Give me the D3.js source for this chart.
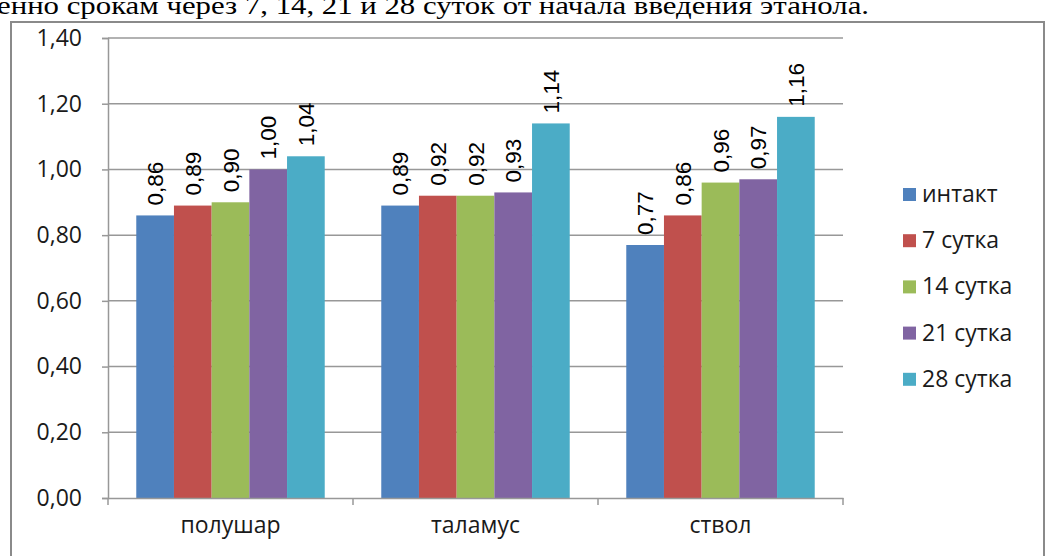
<!DOCTYPE html>
<html>
<head>
<meta charset="utf-8">
<script src="https://cdn.jsdelivr.net/npm/d3@7"></script>
<style>
  body { margin: 0; background: #fff; overflow: hidden; }
  svg { display: block; }
</style>
</head>
<body>
<div id="chart"></div>
<script>
var categories = ["полушар", "таламус", "ствол"];
var seriesNames = ["интакт", "7 сутка", "14 сутка", "21 сутка", "28 сутка"];
var seriesColors = ["#4F81BD", "#C0504D", "#9BBB59", "#8064A2", "#4BACC6"];
// values per category, in series order
var values = [
  [0.86, 0.89, 0.90, 1.00, 1.04],
  [0.89, 0.92, 0.92, 0.93, 1.14],
  [0.77, 0.86, 0.96, 0.97, 1.16]
];
var yTicks = [0, 0.2, 0.4, 0.6, 0.8, 1.0, 1.2, 1.4];

var width = 1048, height = 556;
var plot = {left: 108, right: 843, top: 38, bottom: 498};
var labelFont = "'Open Sans', 'Liberation Sans', sans-serif";

var svg = d3.select("#chart").append("svg")
    .attr("width", width)
    .attr("height", height);

// caption line of the surrounding document, cut off at the top
svg.append("text")
    .attr("x", -3)
    .attr("y", 14)
    .attr("textLength", 872)
    .attr("lengthAdjust", "spacingAndGlyphs")
    .style("font-family", "'Liberation Serif', 'DejaVu Serif', serif")
    .style("font-size", "26px")
    .style("fill", "#000")
    .text("енно срокам через 7, 14, 21 и 28 суток от начала введения этанола.");

// chart frame
svg.append("rect")
    .attr("x", 11).attr("y", 22)
    .attr("width", 1033).attr("height", 545)
    .style("fill", "#fff")
    .style("stroke", "#8a8a8a")
    .style("stroke-width", 2);

var x0 = d3.scaleBand()
    .domain(categories)
    .range([plot.left, plot.right]);

var bw = x0.bandwidth();
var gap = bw * 1.5 / 6.5;
var x1 = d3.scaleBand()
    .domain(d3.range(seriesNames.length))
    .range([gap / 2, bw - gap / 2]);

var yScale = d3.scaleLinear()
    .domain([0, 1.4])
    .range([plot.bottom, plot.top]);

var fmt = function(v) { return d3.format(".2f")(v).replace(".", ","); };

// gridlines
svg.append("g").selectAll("line")
    .data(yTicks.filter(function(d) { return d > 0; }))
    .enter().append("line")
    .attr("x1", plot.left).attr("x2", plot.right)
    .attr("y1", function(d) { return yScale(d); })
    .attr("y2", function(d) { return yScale(d); })
    .style("stroke", "#989898")
    .style("stroke-width", 1.5);

// y axis
var yAxis = svg.append("g")
    .attr("transform", "translate(" + plot.left + ",0)")
    .call(d3.axisLeft(yScale).tickValues(yTicks).tickFormat(fmt).tickSizeOuter(0).tickSize(6).tickPadding(20));
yAxis.select(".domain").style("stroke", "#989898").style("stroke-width", 1.5);
yAxis.selectAll(".tick line").style("stroke", "#989898").style("stroke-width", 1.5);
yAxis.selectAll(".tick text")
    .style("font-family", labelFont)
    .style("font-size", "23px")
    .style("fill", "#1a1a1a");

// bars
var groups = svg.append("g").selectAll("g")
    .data(categories)
    .enter().append("g")
    .attr("transform", function(d) { return "translate(" + x0(d) + ",0)"; });

groups.selectAll("rect")
    .data(function(d, i) { return values[i]; })
    .enter().append("rect")
    .attr("x", function(d, j) { return x1(j); })
    .attr("width", x1.bandwidth())
    .attr("y", function(d) { return yScale(d); })
    .attr("height", function(d) { return yScale(0) - yScale(d); })
    .style("fill", function(d, j) { return seriesColors[j]; });

groups.selectAll("text")
    .data(function(d, i) { return values[i]; })
    .enter().append("text")
    .attr("transform", function(d, j) {
      return "translate(" + (x1(j) + x1.bandwidth() / 2 + 8) + "," + (yScale(d) - 10) + ") rotate(-90)";
    })
    .style("font-family", "'Liberation Sans', Arial, sans-serif")
    .style("font-size", "22.5px")
    .style("fill", "#000")
    .text(fmt);

// x axis
var xAxis = svg.append("g")
    .attr("transform", "translate(0," + plot.bottom + ")")
    .call(d3.axisBottom(x0).tickSize(0).tickSizeOuter(0).tickPadding(19));
xAxis.select(".domain").style("stroke", "#989898").style("stroke-width", 1.5);
xAxis.selectAll(".tick text")
    .style("font-family", labelFont)
    .style("font-size", "23px")
    .style("fill", "#1a1a1a");
// category separator ticks
xAxis.append("g").selectAll("line")
    .data(d3.range(categories.length + 1))
    .enter().append("line")
    .attr("x1", function(i) { return plot.left + i * bw; })
    .attr("x2", function(i) { return plot.left + i * bw; })
    .attr("y1", 0).attr("y2", 7)
    .style("stroke", "#989898")
    .style("stroke-width", 1.5);

// legend
var legend = svg.append("g").selectAll("g")
    .data(seriesNames)
    .enter().append("g")
    .attr("transform", function(d, i) { return "translate(903," + (194 + i * 46.2) + ")"; });

legend.append("rect")
    .attr("x", 0).attr("y", -6)
    .attr("width", 13).attr("height", 13)
    .style("fill", function(d, i) { return seriesColors[i]; });

legend.append("text")
    .attr("x", 19).attr("y", 8)
    .style("font-family", labelFont)
    .style("font-size", "23px")
    .style("fill", "#1a1a1a")
    .text(function(d) { return d; });
</script>
</body>
</html>
